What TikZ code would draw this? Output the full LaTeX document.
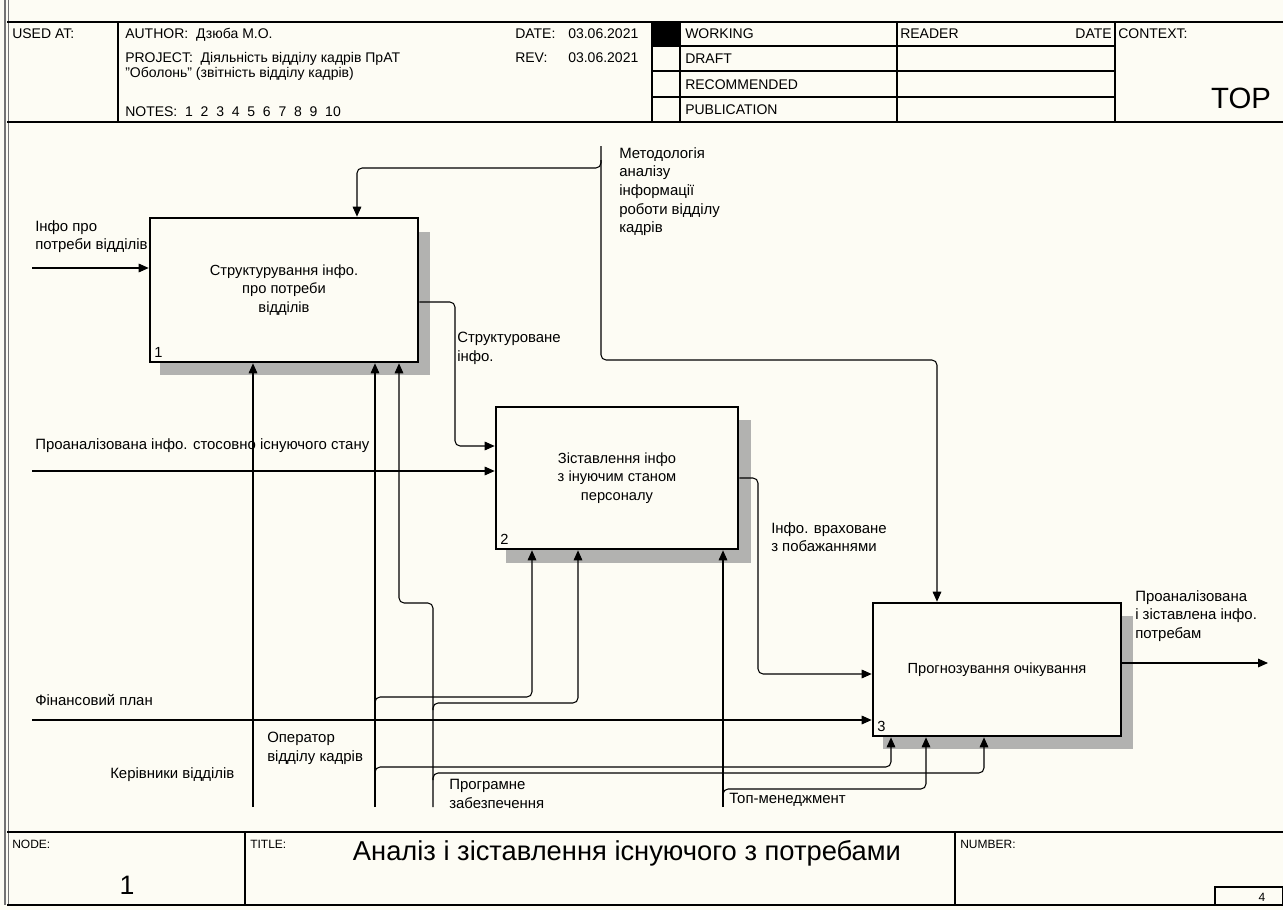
\documentclass[tikz,border=0pt]{standalone}
\usepackage{fontspec}
\setmainfont{Liberation Sans}
\usetikzlibrary{arrows.meta}
\definecolor{bgc}{RGB}{253,252,244}
\definecolor{shd}{RGB}{178,178,176}
\begin{document}
\begin{tikzpicture}[x=0.75pt,y=-0.75pt,
  ln/.style={line width=0.8pt, rounded corners=3.8pt},
  arr/.style={ln, -{Triangle[length=7.5pt,width=6.5pt]}},
  grid/.style={line width=0.8pt},
  proc/.style={draw, line width=2pt, fill=bgc, align=center, inner sep=2pt,
     font=\fontsize{11pt}{14pt}\selectfont},
  lbl/.style={font=\fontsize{11.2pt}{14pt}\selectfont, inner sep=0pt, align=left},
  hdr/.style={font=\fontsize{10.5pt}{12.5pt}\selectfont, inner sep=0pt, anchor=base west},
  ftr/.style={font=\fontsize{9pt}{11pt}\selectfont, inner sep=0pt, anchor=base west},
  num/.style={font=\fontsize{11pt}{13pt}\selectfont, inner sep=4pt, anchor=south west}
]
\useasboundingbox (0,0) rectangle (1283,910);
\fill[bgc] (0,0) rectangle (1283,910);

% frame
\draw[line width=0.8pt, black!55] (5,0) -- (5,905) (8.5,0) -- (8.5,905);
\draw[grid] (7,22) -- (1283,22) (7,122) -- (1283,122);
\draw[grid] (118,22) -- (118,122) (652,22) -- (652,122) (680,22) -- (680,122)
            (897,22) -- (897,122) (1115,22) -- (1115,122);
\draw[grid] (652,46) -- (1115,46) (652,71) -- (1115,71) (652,97) -- (1115,97);
\fill (652,22) rectangle (680,46);

\node[hdr] (usedat) at (12,38) {USED AT:};
\node[hdr] (author) at (125,38) {AUTHOR:\ \ Дзюба М.О.};
\node[hdr] (proj1) at (125,62) {PROJECT:\ \ Діяльність відділу кадрів ПрАТ};
\node[hdr] (proj2) at (125,77) {"Оболонь" (звітність відділу кадрів)};
\node[hdr] (notes) at (125,116) {NOTES:\ \ 1\ \ 2\ \ 3\ \ 4\ \ 5\ \ 6\ \ 7\ \ 8\ \ 9\ \ 10};
\node[hdr] (date) at (515,38) {DATE:};
\node[hdr] (datev) at (568,38) {03.06.2021};
\node[hdr] (rev) at (515,62) {REV:};
\node[hdr] (revv) at (568,62) {03.06.2021};
\node[hdr] (working) at (685,38) {WORKING};
\node[hdr] (draft) at (685,63) {DRAFT};
\node[hdr] (recom) at (685,89) {RECOMMENDED};
\node[hdr] (publ) at (685,114) {PUBLICATION};
\node[hdr] (reader) at (900,38) {READER};
\node[hdr, anchor=base east] (rdate) at (1112,38) {DATE};
\node[hdr] (context) at (1118,38) {CONTEXT:};
\node[font=\fontsize{22pt}{24pt}\selectfont, inner sep=0pt] (top) at (1241,98) {TOP};

% footer
\draw[grid] (7,832) -- (1283,832) (7,905) -- (1283,905)
            (245,832) -- (245,905) (955,832) -- (955,905);
\draw[grid] (1215,887) rectangle (1283,905);
\node[ftr] (nodel) at (12,848) {NODE:};
\node[ftr] (titlel) at (250,848) {TITLE:};
\node[ftr] (numberl) at (960,848) {NUMBER:};
\node[font=\fontsize{20pt}{22pt}\selectfont, inner sep=0pt] (nodenum) at (127,885) {1};
\node[font=\fontsize{20.5pt}{22pt}\selectfont, inner sep=0pt] (title) at (627,853) {Аналіз і зіставлення існуючого з потребами};
\node[font=\fontsize{9pt}{11pt}\selectfont, inner sep=0pt] (pg) at (1262,897) {4};

% shadows
\fill[shd] (160,232) rectangle (430,375);
\fill[shd] (506,420) rectangle (751,563);
\fill[shd] (883,616) rectangle (1133,749);

% boxes
\node[proc, minimum width=201pt, minimum height=108pt] (b1) at (284,290)
  {Структурування інфо.\\про потреби\\відділів};
\node[proc, minimum width=181.5pt, minimum height=106.5pt] (b2) at (617,478)
  {Зіставлення інфо\\з інуючим станом\\персоналу};
\node[proc, minimum width=186pt, minimum height=99.75pt] (b3) at (997,669.5)
  {Прогнозування очікування};
\node[num] (n1) at (b1.south west) {1};
\node[num] (n2) at (b2.south west) {2};
\node[num] (n3) at (b3.south west) {3};

% inputs
\coordinate (i1) at (32,268);
\coordinate (i2) at (32,471);
\coordinate (i3) at (32,720);
\draw[arr] (i1) -- (i1 -| b1.west);
\draw[arr] (i2) -- (i2 -| b2.west);
\draw[arr] (i3) -- (i3 -| b3.west);

% box to box
\draw[arr] (b1.east |- 0,302) -- (455,302) -- (455,446) -- (b2.west |- 0,446);
\draw[arr] (b2.east |- 0,478) -- (758,478) -- (758,674) -- (b3.west |- 0,674);
\coordinate (o3) at (1268,663);
\draw[arr] (b3.east |- o3) -- (o3);

% control
\coordinate (c0) at (601,146);
\draw[arr] (c0) -- (601,360) -- (937,360) -- (937,0 |- b3.north);
\draw[arr] (601,160) -- (601,168) -- (357,168) -- (357,0 |- b1.north);

% mechanisms
\coordinate (k) at (253,807);
\coordinate (op) at (375,807);
\coordinate (pz) at (433,807);
\coordinate (tm) at (723,807);
\draw[arr] (k) -- (k |- b1.south);
\draw[arr] (op) -- (op |- b1.south);
\draw[arr] (375,704) -- (375,697) -- (532,697) -- (532,0 |- b2.south);
\draw[arr] (375,774) -- (375,767) -- (891,767) -- (891,0 |- b3.south);
\draw[arr] (pz) -- (433,603) -- (399,603) -- (399,0 |- b1.south);
\draw[arr] (433,710) -- (433,703) -- (578,703) -- (578,0 |- b2.south);
\draw[arr] (433,780) -- (433,773) -- (984,773) -- (984,0 |- b3.south);
\draw[arr] (tm) -- (tm |- b2.south);
\draw[arr] (723,796) -- (723,789) -- (926,789) -- (926,0 |- b3.south);

% labels
\node[lbl, anchor=north west] (l_i1) at (35,220) {Інфо про\\потреби відділів};
\node[lbl, anchor=north west] (l_s) at (457,332) {Структуроване\\інфо.};
\node[lbl, anchor=north west] (l_m) at (619,147) {Методологія\\аналізу\\інформації\\роботи відділу\\кадрів};
\node[lbl, anchor=west] (l_i2) at (35,446) {Проаналізована інфо. стосовно існуючого стану};
\node[lbl, anchor=north west] (l_v) at (771,522) {Інфо. враховане\\з побажаннями};
\node[lbl, anchor=north west] (l_o) at (1135,590) {Проаналізована\\і зіставлена інфо.\\потребам};
\node[lbl, anchor=west] (l_f) at (35,700) {Фінансовий план};
\node[lbl, anchor=north west] (l_op) at (267,732) {Оператор\\відділу кадрів};
\node[lbl, anchor=west] (l_k) at (110,775) {Керівники відділів};
\node[lbl, anchor=north west] (l_pz) at (449,779) {Програмне\\забезпечення};
\node[lbl, anchor=west] (l_tm) at (729,800) {Топ-менеджмент};
\end{tikzpicture}
\end{document}
